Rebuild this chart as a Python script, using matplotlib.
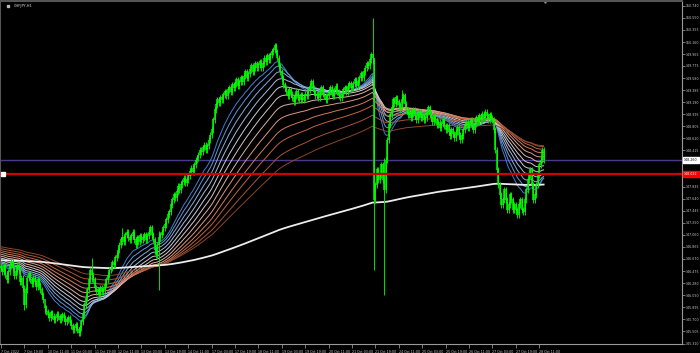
import numpy as np
import matplotlib.pyplot as plt
from matplotlib import font_manager
from matplotlib.colors import LinearSegmentedColormap

# CHFJPY H1 closes, 7 Oct 03:00 .. 28 Oct 14:00 (16 bars per row)
closes = [
    146.52, 146.46, 146.56, 146.41, 146.33, 146.46, 146.56, 146.62, 146.52, 146.40, 146.46, 146.57, 146.49, 146.30, 146.36, 146.20,
    145.93, 146.17, 146.36, 146.43, 146.33, 146.27, 146.36, 146.30, 146.22, 146.33, 146.25, 146.17, 146.09, 146.01, 145.88, 145.82,
    145.77, 145.72, 145.80, 145.75, 145.69, 145.72, 145.78, 145.74, 145.69, 145.72, 145.77, 145.72, 145.66, 145.69, 145.72, 145.66,
    145.59, 145.53, 145.56, 145.61, 145.53, 145.48, 145.56, 145.66, 145.77, 145.93, 146.04, 146.17, 146.33, 146.49, 146.41, 146.33,
    146.20, 146.14, 146.17, 146.09, 146.20, 146.14, 146.17, 146.25, 146.33, 146.41, 146.49, 146.52, 146.61, 146.57, 146.69, 146.73,
    146.81, 146.89, 146.98, 147.01, 146.94, 147.06, 147.10, 147.01, 146.98, 147.04, 147.10, 146.98, 146.89, 147.01, 146.94, 147.04,
    146.98, 147.01, 147.06, 146.98, 147.04, 147.10, 147.17, 147.06, 146.98, 146.81, 146.73, 146.89, 147.01, 147.06, 147.10, 147.17,
    147.22, 147.30, 147.38, 147.43, 147.54, 147.62, 147.70, 147.65, 147.75, 147.84, 147.78, 147.86, 147.91, 147.97, 147.89, 147.94,
    148.01, 148.07, 148.13, 148.07, 148.18, 148.26, 148.29, 148.34, 148.42, 148.39, 148.46, 148.50, 148.42, 148.49, 148.58, 148.66,
    148.75, 148.91, 149.07, 149.15, 149.23, 149.18, 149.26, 149.23, 149.31, 149.36, 149.29, 149.39, 149.42, 149.36, 149.47, 149.42,
    149.49, 149.55, 149.45, 149.52, 149.58, 149.52, 149.61, 149.68, 149.58, 149.65, 149.71, 149.78, 149.68, 149.74, 149.81, 149.74,
    149.79, 149.84, 149.74, 149.81, 149.90, 149.84, 149.94, 149.87, 149.95, 150.00, 150.03, 150.10, 150.00, 149.90, 149.78, 149.68,
    149.58, 149.47, 149.42, 149.36, 149.29, 149.39, 149.32, 149.26, 149.20, 149.29, 149.36, 149.26, 149.23, 149.31, 149.23, 149.26,
    149.32, 149.29, 149.39, 149.45, 149.52, 149.42, 149.36, 149.29, 149.32, 149.26, 149.36, 149.42, 149.32, 149.29, 149.23, 149.29,
    149.36, 149.42, 149.32, 149.29, 149.39, 149.45, 149.36, 149.29, 149.26, 149.32, 149.39, 149.42, 149.36, 149.45, 149.49, 149.42,
    149.42, 149.49, 149.55, 149.45, 149.52, 149.58, 149.65, 149.58, 149.68, 149.74, 149.81, 149.78, 149.87, 149.95, 149.90, 147.62,
    147.86, 148.10, 147.94, 148.02, 148.18, 147.94, 147.78, 148.26, 148.58, 148.83, 148.99, 149.10, 149.23, 149.16, 149.26, 149.20,
    149.15, 149.07, 149.23, 149.29, 149.16, 149.07, 148.99, 149.03, 148.94, 149.00, 149.07, 148.97, 148.91, 148.99, 149.03, 148.94,
    148.99, 148.91, 148.94, 149.03, 149.10, 149.00, 148.94, 148.87, 148.97, 148.91, 148.83, 148.87, 148.78, 148.84, 148.91, 148.81,
    148.75, 148.81, 148.71, 148.65, 148.75, 148.68, 148.62, 148.71, 148.78, 148.66, 148.58, 148.65, 148.75, 148.81, 148.87, 148.78,
    148.84, 148.91, 148.81, 148.75, 148.84, 148.94, 148.87, 148.97, 148.91, 149.00, 148.94, 149.03, 148.97, 148.91, 148.99, 148.94,
    148.91, 148.75, 148.42, 148.10, 147.86, 147.70, 147.54, 147.62, 147.78, 147.62, 147.46, 147.54, 147.70, 147.62, 147.46, 147.54,
    147.46, 147.38, 147.54, 147.62, 147.46, 147.43, 147.62, 147.78, 147.94, 148.02, 148.10, 147.86, 147.62, 147.70, 147.86, 148.02,
    148.18, 148.26, 148.42, 148.26,
]
first_open = 146.55
# bars with long wicks: bar index -> (high, low)
spikes = {16: (146.25, 145.85), 30: (145.95, 145.78), 62: (146.69, 146.30), 83: (147.17, 146.90),
          108: (147.12, 146.17), 254: (150.55, 149.80), 255: (149.90, 146.49),
          262: (148.30, 146.09), 274: (149.39, 149.12)}

# EMA ribbon (short -> long) with values at the left edge, plus long white EMA
ribbon_periods = [20, 26, 33, 41, 50, 60, 72, 86, 102, 120, 145, 175]
ribbon_start = [146.57, 146.59, 146.61, 146.63, 146.66, 146.69, 146.72, 146.75, 146.78, 146.81, 146.84, 146.87]
slow_period = 600
slow_start = 146.65

bid_level = 148.26
red_level = 148.032

price_ticks = ['150.740', '150.550', '150.355', '150.160', '149.965', '149.775', '149.580', '149.385',
               '149.190', '148.995', '148.805', '148.610', '148.415', '148.220', '148.025', '147.835',
               '147.640', '147.445', '147.250', '147.060', '146.865', '146.670', '146.475', '146.280',
               '146.090', '145.895', '145.700', '145.505', '145.310']
time_ticks = ['7 Oct 2022', '7 Oct 19:00', '10 Oct 11:00', '11 Oct 03:00', '11 Oct 19:00', '12 Oct 11:00',
              '13 Oct 03:00', '13 Oct 19:00', '14 Oct 11:00', '17 Oct 03:00', '17 Oct 19:00', '18 Oct 11:00',
              '19 Oct 03:00', '19 Oct 19:00', '20 Oct 11:00', '21 Oct 03:00', '21 Oct 19:00', '24 Oct 11:00',
              '25 Oct 03:00', '25 Oct 19:00', '26 Oct 11:00', '27 Oct 03:00', '27 Oct 19:00', '28 Oct 11:00']

try:
    font_manager.findfont('Liberation Sans Narrow', fallback_to_default=False)
    small_font = 'Liberation Sans Narrow'
    fs = 3.1
except Exception:
    small_font = 'DejaVu Sans'
    fs = 2.3


def ema(values, period, start):
    a = 2.0 / (period + 1)
    out = []
    e = start
    for v in values:
        e = a * v + (1 - a) * e
        out.append(e)
    return np.array(out)


c = np.array(closes)
o = np.concatenate([[first_open], c[:-1]])
hi = np.maximum(o, c) + 0.05
lo = np.minimum(o, c) - 0.05
for i, (h, l) in spikes.items():
    hi[i] = h
    lo[i] = l
x = np.arange(len(c))

fig = plt.figure(figsize=(7, 3.53), dpi=100, facecolor='black')
ax = fig.add_axes([0.0, 9 / 353, 682 / 700, 1 - 10 / 353])
ax.set_facecolor('black')

# ribbon
cmap = LinearSegmentedColormap.from_list('rib', ['#3f7fd0', '#8db0dc', '#d8d2dc', '#e0a48e', '#c8683e', '#8c4628'])
for k, (p, s) in enumerate(zip(ribbon_periods, ribbon_start)):
    ax.plot(x, ema(c, p, s), color=cmap(k / (len(ribbon_periods) - 1)), lw=0.7, zorder=2)
ax.plot(x, ema(c, slow_period, slow_start), color='#ececec', lw=1.3, zorder=2)

# candles
ax.vlines(x, lo, hi, color='#00e000', lw=0.7, zorder=3)
body_lo = np.minimum(o, c)
body_hi = np.maximum(o, c) + 0.01
ax.vlines(x, body_lo, body_hi, color='#00ff00', lw=1.1, zorder=3)

# horizontal levels
ax.axhline(bid_level, color='#4a3a8c', lw=1.0, zorder=1)
ax.axhline(red_level, color='#d00000', lw=1.6, zorder=4)
ax.plot([0.004], [red_level], marker='s', ms=2.2, color='white', transform=ax.get_yaxis_transform(), zorder=5)

ax.set_xlim(-0.68, 465.6)
ax.set_ylim(145.302, 150.82)

ax.set_xticks(x[::16][:len(time_ticks)], time_ticks)
for lbl in ax.get_xticklabels():
    lbl.set_horizontalalignment('left')
    lbl.set_family(small_font)
ax.tick_params(axis='x', colors='#8a8a8a', length=3, width=0.6, pad=1, labelsize=fs, labelcolor='#c8c8c8')

# scale labels hidden under the two price boxes
shown = [t if min(abs(float(t) - bid_level), abs(float(t) - red_level)) > 0.06 else '' for t in price_ticks]
ax.yaxis.tick_right()
ax.set_yticks([float(t) for t in price_ticks], shown)
for lbl in ax.get_yticklabels():
    lbl.set_family(small_font)
ax.tick_params(axis='y', colors='#8a8a8a', length=2, width=0.6, pad=1, labelsize=fs, labelcolor='#c8c8c8')

for side in ['right', 'bottom']:
    ax.spines[side].set_color('#9a9a9a')
    ax.spines[side].set_linewidth(0.8)
for side in ['left', 'top']:
    ax.spines[side].set_color('#555555')
    ax.spines[side].set_linewidth(1.5)

# price boxes on the right scale
ax.text(1.003, bid_level, f'{bid_level:.3f}', transform=ax.get_yaxis_transform(), fontsize=fs,
        family=small_font, color='black', va='center', ha='left', clip_on=False,
        bbox=dict(boxstyle='square,pad=0.3', fc='white', ec='white'))
ax.text(1.003, red_level, f'{red_level:.3f}', transform=ax.get_yaxis_transform(), fontsize=fs,
        family=small_font, color='white', va='center', ha='left', clip_on=False,
        bbox=dict(boxstyle='square,pad=0.3', fc='#ff0000', ec='#ff0000'))

# title and chart shift marker
ax.plot([0.012], [0.986], marker='s', ms=1.8, color='#bbbbbb', transform=ax.transAxes, clip_on=False)
ax.text(0.02, 0.986, 'CHFJPY,H1', transform=ax.transAxes, fontsize=fs + 0.3, family=small_font,
        color='#dddddd', va='center', ha='left')
ax.plot([545 / 682], [1.0], marker='v', ms=2.5, color='#9a9a9a', transform=ax.transAxes, clip_on=False)

fig.savefig('out.png', dpi=100, facecolor='black')
